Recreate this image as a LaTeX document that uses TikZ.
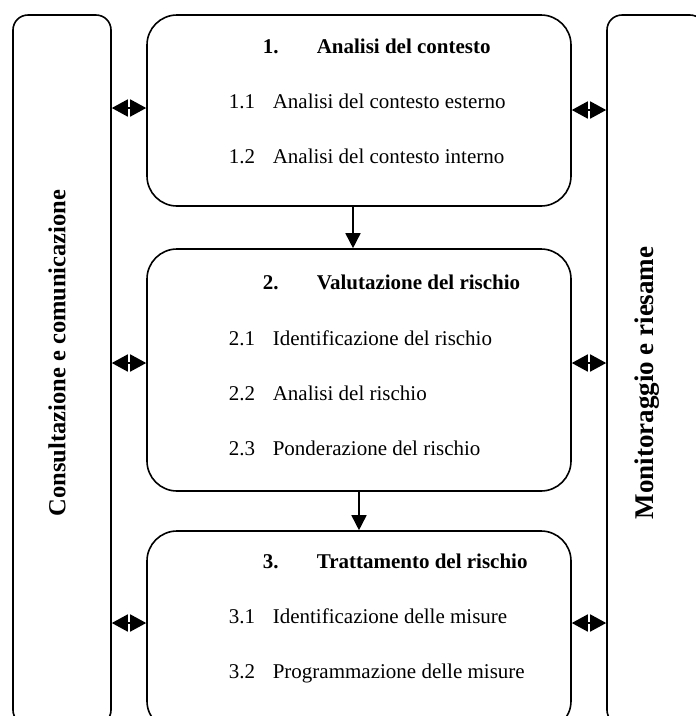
\documentclass[tikz,border=0pt]{standalone}
\usepackage{fontspec}
\setmainfont{Liberation Serif}
\usetikzlibrary{arrows.meta, positioning}

\begin{document}
\begin{tikzpicture}[x=1pt, y=-1pt, line width=1.6pt,
  side/.style={draw, rounded corners=15pt, minimum width=98pt, minimum height=710pt, inner sep=0pt},
  phase/.style={draw, rounded corners=30pt, minimum width=424pt, inner sep=0pt},
  sidelabel/.style={rotate=90, font=\fontsize{24.5}{28}\selectfont\bfseries},
  head/.style={anchor=base west, font=\fontsize{21}{25}\selectfont\bfseries, inner sep=0pt},
  item/.style={anchor=base west, font=\fontsize{21}{25}\selectfont, inner sep=0pt},
  both/.style={{Triangle[length=16pt, width=17pt]}-{Triangle[length=16pt, width=17pt]}},
  down/.style={-{Triangle[length=15pt, width=15pt]}}]
\clip (0,0) rectangle (696,716);
% side boxes
\node[side] (cons) at (62,370) {};
\node[side] (moni) at (656,370) {};
\node[sidelabel] (conslab) at (57,353) {Consultazione e comunicazione};
\node[sidelabel, font=\fontsize{27}{30}\selectfont\bfseries] (monilab) at (647,383) {Monitoraggio e riesame};
% phases
\node[phase, minimum height=191pt] (ctx) at (359,110.5) {};
\node[phase, minimum height=242pt] (val) at (359,370) {};
\node[phase, minimum height=200pt] (trt) at (359,631) {};
% box 1
\node[head] (n1) at (262,53) {1.};
\node[head] (t1) at (316,53) {Analisi del contesto};
\node[item] (n11) at (228,108) {1.1};
\node[item] (t11) at (272,108) {Analisi del contesto esterno};
\node[item] (n12) at (228,163) {1.2};
\node[item] (t12) at (272,163) {Analisi del contesto interno};
% box 2
\node[head] (n2) at (262,289) {2.};
\node[head] (t2) at (316,289) {Valutazione del rischio};
\node[item] (n21) at (228,345) {2.1};
\node[item] (t21) at (272,345) {Identificazione del rischio};
\node[item] (n22) at (228,400) {2.2};
\node[item] (t22) at (272,400) {Analisi del rischio};
\node[item] (n23) at (228,455) {2.3};
\node[item] (t23) at (272,455) {Ponderazione del rischio};
% box 3
\node[head] (n3) at (262,568) {3.};
\node[head] (t3) at (316,568) {Trattamento del rischio};
\node[item] (n31) at (228,623) {3.1};
\node[item] (t31) at (272,623) {Identificazione delle misure};
\node[item] (n32) at (228,678) {3.2};
\node[item] (t32) at (272,678) {Programmazione delle misure};
% arrows
\draw[down] (ctx.south -| 353,0) -- (val.north -| 353,0);
\draw[down] (val.south -| 359,0) -- (trt.north -| 359,0);
\draw[both] (cons.east |- 0,108) -- (ctx.west |- 0,108);
\draw[both] (cons.east |- 0,363) -- (val.west |- 0,363);
\draw[both] (cons.east |- 0,623) -- (trt.west |- 0,623);
\draw[both] (ctx.east |- 0,110) -- (moni.west |- 0,110);
\draw[both] (val.east |- 0,363) -- (moni.west |- 0,363);
\draw[both] (trt.east |- 0,623) -- (moni.west |- 0,623);
\end{tikzpicture}
\end{document}
